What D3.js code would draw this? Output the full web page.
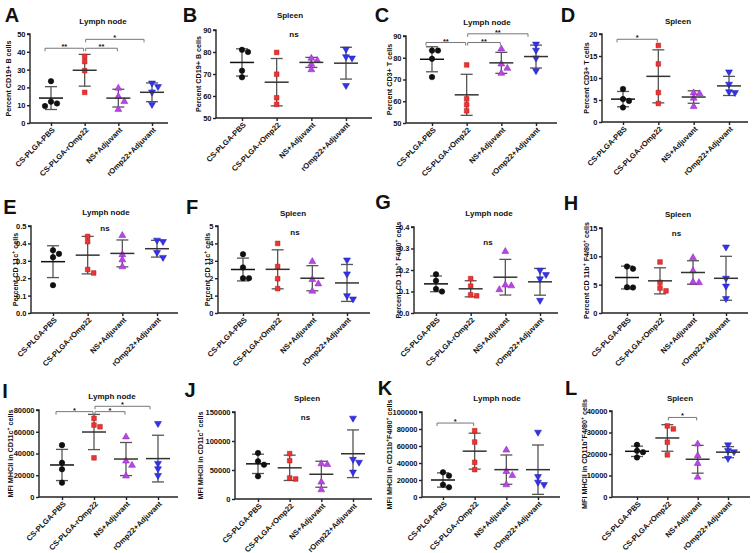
<!DOCTYPE html>
<html><head><meta charset="utf-8">
<script src="https://cdn.jsdelivr.net/npm/d3@7"></script>
<style>
body{margin:0;background:#fff}
svg{display:block}
text{font-family:"Liberation Sans",Arial,sans-serif;font-weight:bold;fill:#111}
</style>
</head><body>
<svg id="chart" width="753" height="553"></svg>
<script>
// ---------- DATA ----------
const groups = ["CS-PLGA-PBS", "CS-PLGA-rOmp22", "NS+Adjuvant", "rOmp22+Adjuvant"];
const panelLetters = ["A","B","C","D","E","F","G","H","I","J","K","L"];
const panelTitles = ["Lymph node","Spleen","Lymph node","Spleen","Lymph node","Spleen","Lymph node","Spleen","Lymph node","Spleen","Lymph node","Spleen"];
const yLabels = [
  "Percent CD19+ B cells","Percent CD19+ B cells",
  "Percent CD3+ T cells","Percent CD3+ T cells",
  "Percent CD 11c^+^ cells","Percent CD 11c^+^ cells",
  "Percent CD 11b^+^ F4/80^+^ cells","Percent CD 11b^+^ F4/80^+^ cells",
  "MFI MHCII in CD11c^+^ cells","MFI MHCII in CD11c^+^ cells",
  "MFI MHCII in CD11b^+^F4/80^+^ cells","MFI MHCII in CD11b^+^F4/80^+^ cells"
];
const yDomains = [[0,50],[50,90],[50,90],[0,20],[0,0.5],[0,5],[0,0.4],[0,15],[0,80000],[0,150000],[0,100000],[0,40000]];
const yTicks = [
  [0,10,20,30,40,50],[50,60,70,80,90],[50,60,70,80,90],[0,5,10,15,20],
  [0,0.1,0.2,0.3,0.4,0.5],[0,1,2,3,4,5],[0,0.1,0.2,0.3,0.4],[0,5,10,15],
  [0,20000,40000,60000,80000],[0,50000,100000,150000],[0,20000,40000,60000,80000,100000],[0,10000,20000,30000,40000]
];
const yTickFormats = ["d","d","d","d",".1f","d",".1f","d","d","d","d","d"];

const valsA = [[23.5,12,9.5,11],[37.4,34.5,29.4,17.2],[20,15.3,12.5,8.1],[22,20,17,10]];
const valsB = [[81,80,71.5,68.5],[79.8,69.9,59.2,56.2],[77.5,76.5,74.8,72.3],[80.9,77.5,76.9,64.4]];
const valsC = [[83.3,83.3,79.5,71.1],[76.7,61.1,58.4,55.6],[84.4,77.5,75.5,73.2],[85.9,83.1,79.5,73.7]];
const valsD = [[7.5,5.2,4.8,3.3],[17.4,13.2,6.7,4.2],[6.8,6.6,5.6,3.7],[11.2,8.4,6.7,6.5]];
const valsE = [[0.36,0.34,0.32,0.16],[0.44,0.41,0.25,0.23],[0.45,0.34,0.31,0.27],[0.414,0.406,0.343,0.315]];
const valsF = [[3.38,2.62,2.0,2.0],[4.0,2.67,1.97,1.4],[3.0,1.97,1.72,1.3],[3.0,2.2,0.95,0.76]];
const valsG = [[0.18,0.15,0.112,0.1],[0.16,0.125,0.085,0.08],[0.29,0.134,0.13,0.112],[0.195,0.175,0.155,0.055]];
const valsH = [[8.2,7.8,4.55,4.5],[9.0,5.4,4.4,3.9],[9.9,7.6,5.6,5.5],[11.5,6.0,4.6,2.4]];
const valsI = [[47700,31400,25500,13200],[72300,66150,64600,36000],[56000,33800,29850,20000],[66800,30150,25230,19080]];
const valsJ = [[79300,64900,59200,39100],[78200,66100,36200,34500],[62100,60900,30500,17200],[138000,67000,62000,45000]];
const valsK = [[29000,25100,14500,11400],[78000,64700,40800,32200],[56100,31000,26300,15300],[75300,23100,16500,13700]];
const valsL = [[24250,21500,20850,18400],[33050,31660,25500,19600],[25000,19600,16000,9600],[23900,21200,20700,17600]];
const panelValues = [valsA,valsB,valsC,valsD,valsE,valsF,valsG,valsH,valsI,valsJ,valsK,valsL];

// significance brackets: [fromGroup, toGroup, yValue, label]
const sigA = [[0,1,42,"**"],[1,2,42,"**"],[1,3,47,"*"]];
const sigC = [[0,1,87,"**"],[1,2,87,"**"],[1,3,91,"**"]];
const sigD = [[0,1,18.8,"*"]];
const sigI = [[0,1,78500,"*"],[1,2,78500,"*"],[1,3,83400,"*"]];
const sigK = [[0,1,87000,"*"]];
const sigL = [[1,2,37000,"*"]];
const panelSigs = [sigA,[],sigC,sigD,[],[],[],[],sigI,[],sigK,sigL];
// "ns" labels (y value), null if none
const nsValues = [null,88,null,null,0.49,4.66,0.33,14.1,null,141000,null,null];

// ---------- LAYOUT ----------
const layout = [
  {left:30, right:168, top:34, bottom:123, c0:51, c3:152, ylabX:8,  tx:103, ty:21, lx:12, ly:15},
  {left:216,right:372, top:30, bottom:118, c0:242,c3:346, ylabX:198,tx:290, ty:15, lx:190,ly:15},
  {left:406,right:557, top:36, bottom:123, c0:432,c3:536, ylabX:389,tx:487, ty:22, lx:382,ly:15},
  {left:602,right:748, top:34, bottom:122, c0:623,c3:729, ylabX:586,tx:678, ty:21, lx:568,ly:15},
  {left:31, right:178, top:226,bottom:313, c0:53, c3:157, ylabX:15, tx:106, ty:212,lx:10, ly:207},
  {left:218,right:370, top:226,bottom:313, c0:243,c3:347, ylabX:207,tx:293, ty:213,lx:192,ly:207},
  {left:414,right:558, top:227,bottom:313, c0:436,c3:540, ylabX:398,tx:489, ty:213,lx:383,ly:202},
  {left:602,right:748, top:228,bottom:313, c0:627,c3:726, ylabX:586,tx:678, ty:214,lx:571,ly:203},
  {left:39, right:178, top:410,bottom:497, c0:62, c3:158, ylabX:10, tx:112, ty:396,lx:5,  ly:391},
  {left:235,right:372, top:412,bottom:499, c0:258,c3:353, ylabX:200,tx:307, ty:398,lx:190,ly:390},
  {left:422,right:560, top:412,bottom:497, c0:443,c3:538, ylabX:389,tx:497, ty:398,lx:385,ly:388},
  {left:612,right:750, top:411,bottom:497, c0:637,c3:728, ylabX:584,tx:680, ty:398,lx:571,ly:388}
];

const colors = ["#111111","#ee3333","#bb44e6","#3333ee"];
const strokes = ["#000000","#b01c1c","#8a25b5","#1a1aa8"];
const shapes = [d3.symbolCircle, d3.symbolSquare, d3.symbolTriangle, d3.symbolTriangle];
const sizes = [24, 22, 21, 21];
const rotations = [0,0,0,180];

const svg = d3.select("#chart");

function addLabelText(sel, str, fs) {
  const parts = str.split("^");
  let shiftBack = false;
  parts.forEach((p,i) => {
    if (!p) return;
    if (i % 2 === 1) {
      sel.append("tspan").attr("dy", -3).attr("font-size", fs*0.72).text(p);
      shiftBack = true;
    } else {
      const t = sel.append("tspan").text(p);
      if (shiftBack) { t.attr("dy", 3); shiftBack = false; }
    }
  });
}

panelValues.forEach((vals, pi) => {
  const L = layout[pi];
  const g = svg.append("g");
  const y = d3.scaleLinear().domain(yDomains[pi]).range([L.bottom, L.top]);
  const x = d3.scalePoint().domain(groups).range([L.c0, L.c3]);
  const fmt = d3.format(yTickFormats[pi]);

  // panel letter
  g.append("text").attr("x", L.lx).attr("y", L.ly + 7).attr("text-anchor","middle")
    .attr("font-size", 20).text(panelLetters[pi]);
  // title
  g.append("text").attr("x", L.tx).attr("y", L.ty + 3).attr("text-anchor","middle")
    .attr("font-size", 8).text(panelTitles[pi]);

  // Y axis
  const yAxis = d3.axisLeft(y).tickValues(yTicks[pi]).tickFormat(fmt).tickSize(3).tickPadding(1.5);
  const ya = g.append("g").attr("transform", `translate(${L.left},0)`).call(yAxis);
  ya.select(".domain").attr("stroke","#222").attr("stroke-width",1.4).attr("d", `M-3,${L.top}H0V${L.bottom}`);
  ya.selectAll(".tick line").attr("stroke","#222").attr("stroke-width",1.4);
  ya.selectAll(".tick text").attr("font-size", 7.5).attr("fill","#111")
    .style("font-family",'"Liberation Sans",Arial,sans-serif').style("font-weight","bold");

  // X axis
  const xAxis = d3.axisBottom(x).tickSize(3).tickFormat("");
  const xa = g.append("g").attr("transform", `translate(0,${L.bottom})`).call(xAxis);
  xa.select(".domain").attr("stroke","#222").attr("stroke-width",1.4).attr("d", `M${L.left},0H${L.right}`);
  xa.selectAll(".tick line").attr("stroke","#222").attr("stroke-width",1.4);

  // category labels
  groups.forEach(gr => {
    g.append("text")
      .attr("transform", `translate(${x(gr)+2.5},${L.bottom+5.5}) rotate(-45)`)
      .attr("text-anchor","end").attr("dy","0.35em").attr("font-size", 7.6)
      .text(gr);
  });

  // y label
  const yl = g.append("text")
    .attr("transform", `translate(${L.ylabX},${(L.top+L.bottom)/2}) rotate(-90)`)
    .attr("text-anchor","middle").attr("dy","0.35em").attr("font-size", 7.2);
  addLabelText(yl, yLabels[pi], 7.2);

  // groups: points, mean, SD
  vals.forEach((arr, gi) => {
    const cx = x(groups[gi]);
    const m = d3.mean(arr), sd = d3.deviation(arr);
    // simple beeswarm
    const placed = [];
    const d = 6, coll = 5;
    const sorted = arr.map((v,i)=>({v,i})).sort((a,b)=>b.v-a.v);
    sorted.forEach(pt => {
      const py = y(pt.v);
      const offs = [0, d, -d, 2*d, -2*d];
      let off = 0;
      for (const o of offs) {
        if (!placed.some(q => Math.abs(q.py-py) < coll && Math.abs(q.off-o) < coll)) { off = o; break; }
      }
      placed.push({py, off, v: pt.v});
    });
    // SD bars
    const sdc = "#555";
    g.append("line").attr("x1",cx).attr("x2",cx).attr("y1",y(m-sd)).attr("y2",y(m+sd))
      .attr("stroke",sdc).attr("stroke-width",1.3);
    [m-sd, m+sd].forEach(v => {
      g.append("line").attr("x1",cx-6).attr("x2",cx+6).attr("y1",y(v)).attr("y2",y(v))
        .attr("stroke",sdc).attr("stroke-width",1.3);
    });
    placed.forEach(p => {
      g.append("path")
        .attr("d", d3.symbol().type(shapes[gi]).size(sizes[gi])())
        .attr("transform", `translate(${cx+p.off},${p.py + (gi===2 ? 0.8 : gi===3 ? -0.8 : 0)}) rotate(${rotations[gi]})`)
        .attr("fill", colors[gi]).attr("stroke", strokes[gi]).attr("stroke-width", 0.5);
    });
    g.append("line").attr("x1",cx-12).attr("x2",cx+12).attr("y1",y(m)).attr("y2",y(m))
      .attr("stroke", gi===0 ? "#111" : "#333").attr("stroke-width",1.5);
  });

  // significance brackets
  panelSigs[pi].forEach(s => {
    const x1 = x(groups[s[0]]) + (s[0] === 0 ? -6 : 1);
    const x2 = x(groups[s[1]]) - (s[1] === 3 ? 8 : 1);
    const yy = y(s[2]);
    g.append("path").attr("d", `M${x1},${yy+3}V${yy}H${x2}V${yy+3}`)
      .attr("fill","none").attr("stroke","#777").attr("stroke-width",1);
    g.append("text").attr("x",(x1+x2)/2).attr("y",yy+1).attr("text-anchor","middle")
      .attr("font-size", 7.5).text(s[3]);
  });

  // ns
  if (nsValues[pi] !== null) {
    g.append("text").attr("x",(x(groups[1])+x(groups[2]))/2).attr("y",y(nsValues[pi])+3)
      .attr("text-anchor","middle").attr("font-size",8).text("ns");
  }
});
</script>
</body></html>
